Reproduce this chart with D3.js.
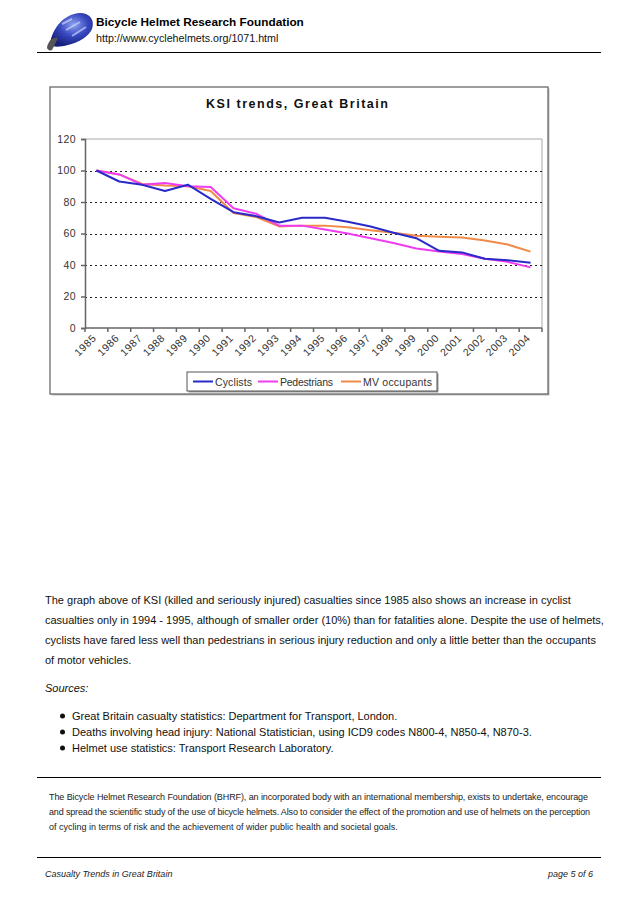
<!DOCTYPE html>
<html><head><meta charset="utf-8">
<script src="https://cdn.jsdelivr.net/npm/d3@7"></script>
<style>
html,body{margin:0;padding:0;background:#fff;}
svg{display:block;font-family:"Liberation Sans",Arial,Helvetica,sans-serif;}
</style></head>
<body>
<svg id="page" width="638" height="903"></svg>
<script>
// ---- data ----
const years = ["1985","1986","1987","1988","1989","1990","1991","1992","1993","1994","1995","1996","1997","1998","1999","2000","2001","2002","2003","2004"];
const cyclists    = [100, 93, 91, 87, 91, 82, 73.5, 71, 67, 70, 70, 67.5, 64.5, 60.5, 57, 49, 48, 44, 43, 41.5];
const pedestrians = [100, 97.5, 91, 92, 90, 89.5, 76, 72.5, 65, 65, 62.5, 60, 57, 54, 50.5, 48.5, 47, 44, 42, 38.5];
const mvOccupants = [100, 97.5, 91.5, 90.5, 90, 87, 73, 70.5, 64.5, 65, 65, 64, 62, 60.5, 58.5, 58, 57.5, 55.5, 53, 48.5];
const seriesNames = ["Cyclists","Pedestrians","MV occupants"];
const seriesColors = ["#2a2ac8","#f03cf0","#f08a48"];
const yTicks = [0,20,40,60,80,100,120];
const chartTitle = "KSI trends, Great Britain";

const svg = d3.select("#page");
svg.append("rect").attr("width",638).attr("height",903).attr("fill","#fff");

// fit a text to a target width by adjusting letter-spacing only
function fitText(sel, target){
  const n = sel.text().length;
  const natural = sel.node().getComputedTextLength();
  if(n>1) sel.attr("letter-spacing", ((target-natural)/(n-1)).toFixed(3));
}

// ---- header ----
const logo = svg.append("g");
const lg = svg.append("defs").append("radialGradient").attr("id","hg").attr("cx","55%").attr("cy","35%").attr("r","65%");
lg.append("stop").attr("offset","0%").attr("stop-color","#8fa4f0");
lg.append("stop").attr("offset","50%").attr("stop-color","#3848c0");
lg.append("stop").attr("offset","100%").attr("stop-color","#16207a");
logo.append("path").attr("d","M50,44 C52,28 64,14 80,13 C90,13 95,20 92,29 C89,36 80,42 68,45 C60,47 53,48 50,44 Z").attr("fill","url(#hg)");
logo.append("path").attr("d","M47,47 C49,40 53,37 58,38 C56,42 54,46 52,50 C50,51 47,50 47,47 Z").attr("fill","#555");
logo.append("path").attr("d","M62,24 L72,19 M66,30 L80,22 M72,36 L86,27").attr("stroke","#c8d2ff").attr("stroke-width",2).attr("fill","none").attr("opacity",0.7);

svg.append("text").attr("x",96).attr("y",26).attr("font-size",11.8).attr("font-weight","bold").attr("fill","#000")
  .text("Bicycle Helmet Research Foundation");
svg.append("text").attr("x",96).attr("y",42).attr("font-size",10.7).attr("fill","#111")
  .text("http://www.cyclehelmets.org/1071.html");
svg.append("line").attr("x1",37).attr("x2",601).attr("y1",52.5).attr("y2",52.5).attr("stroke","#000").attr("stroke-width",1.2);

// ---- chart ----
const box = {x:50, y:87, w:498, h:307};
svg.append("rect").attr("x",box.x+1.5).attr("y",box.y+1.5).attr("width",box.w).attr("height",box.h).attr("fill","#bbb");
svg.append("rect").attr("x",box.x).attr("y",box.y).attr("width",box.w).attr("height",box.h).attr("fill","#fff").attr("stroke","#6a6a6a").attr("stroke-width",1.3);

const title = svg.append("text").attr("x",206).attr("y",108).attr("font-size",12.5).attr("font-weight","bold")
  .attr("fill","#111").text(chartTitle);
fitText(title, 182);

const plot = {l:85, r:542, t:139, b:328};
const x = d3.scaleBand().domain(years).range([plot.l, plot.r]);
const y = d3.scaleLinear().domain([0,120]).range([plot.b, plot.t]);
const cx = d => x(d) + x.bandwidth()/2;

// plot frame top/right
svg.append("path").attr("d",`M${plot.l},${y(120)}H${plot.r}V${plot.b}`).attr("fill","none").attr("stroke","#a8a8a8").attr("stroke-width",1);

// gridlines
svg.append("g").selectAll("line").data(yTicks.filter(t=>t>0 && t<120)).join("line")
  .attr("x1",plot.l).attr("x2",plot.r).attr("y1",d=>Math.round(y(d))+0.5).attr("y2",d=>Math.round(y(d))+0.5)
  .attr("stroke","#222").attr("stroke-width",1).attr("stroke-dasharray","2,3");

// y axis
const yAxis = d3.axisLeft(y).tickValues(yTicks).tickSize(4).tickPadding(5);
const gy = svg.append("g").attr("transform",`translate(${plot.l},0)`).call(yAxis);
gy.select(".domain").attr("stroke","#666").attr("stroke-width",1.5);
gy.selectAll(".tick line").attr("stroke","#666").attr("stroke-width",1.5);
gy.selectAll(".tick text").attr("font-size",10.5).attr("fill","#333").attr("font-family","Liberation Sans, Arial, sans-serif").attr("letter-spacing",0.4);

// x axis
const gx = svg.append("g").attr("transform",`translate(0,${plot.b})`);
gx.append("line").attr("x1",plot.l).attr("x2",plot.r).attr("stroke","#666").attr("stroke-width",1.5);
const edges = years.map(d=>x(d)).concat([x(years[years.length-1])+x.bandwidth()]);
gx.selectAll("line.tk").data(edges).join("line").attr("class","tk")
  .attr("x1",d=>d).attr("x2",d=>d).attr("y1",0).attr("y2",4).attr("stroke","#666").attr("stroke-width",1.5);
gx.selectAll("text").data(years).join("text")
  .attr("transform",d=>`translate(${cx(d)-2},${8}) rotate(-45)`)
  .attr("text-anchor","end").attr("dy","0.35em").attr("font-size",10.5).attr("letter-spacing",0.6).attr("fill","#333")
  .text(d=>d);

// lines
const allSeries = [cyclists, pedestrians, mvOccupants];
const line = d3.line().x((d,i)=>cx(years[i])).y(d=>y(d));
[2,1,0].forEach(k=>{
  svg.append("path").datum(allSeries[k]).attr("d",line).attr("fill","none")
    .attr("stroke",seriesColors[k]).attr("stroke-width",2).attr("stroke-linejoin","round");
});

// legend
const leg = {x:187, y:372, w:250, h:19};
svg.append("rect").attr("x",leg.x+1.5).attr("y",leg.y+1.5).attr("width",leg.w).attr("height",leg.h).attr("fill","#999");
svg.append("rect").attr("x",leg.x).attr("y",leg.y).attr("width",leg.w).attr("height",leg.h).attr("fill","#fff").attr("stroke","#555").attr("stroke-width",1);
const legX = [193, 258, 341];
const legW = [37, 53, 69];
seriesNames.forEach((n,i)=>{
  svg.append("line").attr("x1",legX[i]).attr("x2",legX[i]+20).attr("y1",leg.y+9.5).attr("y2",leg.y+9.5)
    .attr("stroke",seriesColors[i]).attr("stroke-width",2);
  const t = svg.append("text").attr("x",legX[i]+22).attr("y",leg.y+13.5).attr("font-size",10.5).attr("fill","#333").text(n);
  fitText(t, legW[i]);
});

// ---- body text ----
const para = [
 "The graph above of KSI (killed and seriously injured) casualties since 1985 also shows an increase in cyclist",
 "casualties only in 1994 - 1995, although of smaller order (10%) than for fatalities alone. Despite the use of helmets,",
 "cyclists have fared less well than pedestrians in serious injury reduction and only a little better than the occupants",
 "of motor vehicles."
];
para.forEach((t,i)=>{
  svg.append("text").attr("x",45).attr("y",604+i*20).attr("font-size",11).attr("fill","#111").text(t);
});
svg.append("text").attr("x",45).attr("y",692).attr("font-size",11).attr("font-style","italic").attr("fill","#111").text("Sources:");
const bullets = [
 "Great Britain casualty statistics: Department for Transport, London.",
 "Deaths involving head injury: National Statistician, using ICD9 codes N800-4, N850-4, N870-3.",
 "Helmet use statistics: Transport Research Laboratory."
];
bullets.forEach((t,i)=>{
  svg.append("circle").attr("cx",62.5).attr("cy",716+i*16).attr("r",2.5).attr("fill","#111");
  svg.append("text").attr("x",72).attr("y",720+i*16).attr("font-size",11).attr("fill","#111").text(t);
});

svg.append("line").attr("x1",37).attr("x2",601).attr("y1",777.5).attr("y2",777.5).attr("stroke","#000").attr("stroke-width",1.2);
const foot = [
 "The Bicycle Helmet Research Foundation (BHRF), an incorporated body with an international membership, exists to undertake, encourage",
 "and spread the scientific study of the use of bicycle helmets. Also to consider the effect of the promotion and use of helmets on the perception",
 "of cycling in terms of risk and the achievement of wider public health and societal goals."
];
const footW = [539, 541, 0];
foot.forEach((t,i)=>{
  const tx = svg.append("text").attr("x",49).attr("y",800+i*15).attr("font-size",9).attr("fill","#222").text(t);
  if(footW[i]) fitText(tx, footW[i]);
});
svg.append("line").attr("x1",37).attr("x2",601).attr("y1",857.5).attr("y2",857.5).attr("stroke","#000").attr("stroke-width",1.2);
svg.append("text").attr("x",45).attr("y",877).attr("font-size",9).attr("font-style","italic").attr("fill","#222").text("Casualty Trends in Great Britain");
svg.append("text").attr("x",593).attr("y",877).attr("text-anchor","end").attr("font-size",9).attr("font-style","italic").attr("fill","#222").text("page 5 of 6");
</script>
</body></html>
